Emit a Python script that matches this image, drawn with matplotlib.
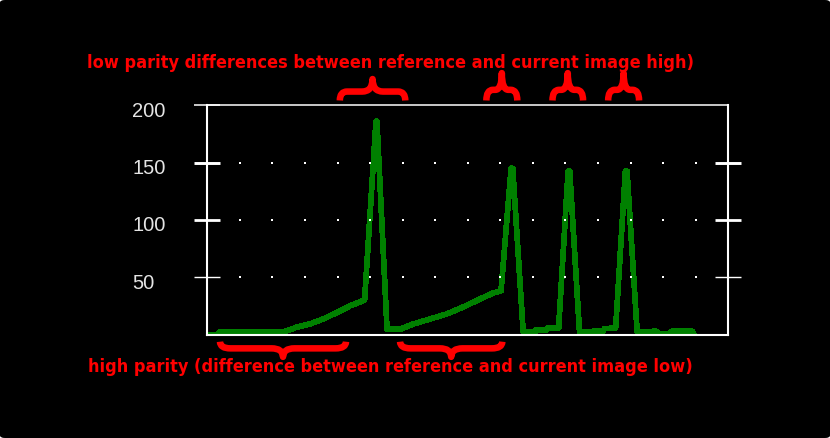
import numpy as np
import matplotlib.pyplot as plt
import matplotlib.transforms as mtransforms
from matplotlib.path import Path
from matplotlib.patches import PathPatch, FancyBboxPatch

# curve vertices (x in grid units, y in chart units)
x_vals = [0.00, 0.30, 0.38, 2.33, 2.75, 3.16, 3.56, 3.98, 4.39, 4.83,
          5.18, 5.21, 5.52, 5.92, 6.33, 6.84, 7.35, 7.86, 8.38, 8.78,
          9.02, 9.33, 9.38, 9.70, 10.08, 10.10, 10.42, 10.45, 10.79, 11.08,
          11.13, 11.43, 11.81, 11.84, 12.16, 12.19, 12.54, 12.84, 12.89, 13.20,
          13.80, 13.83, 14.22, 14.25, 14.90, 14.93]
y_vals = [0.0, 0.0, 2.2, 2.2, 6.4, 9.3, 13.5, 19.2, 25.1, 30.0,
          186.0, 186.0, 4.5, 4.6, 9.2, 13.5, 17.9, 24.0, 31.0, 36.2,
          38.0, 145.0, 145.0, 2.6, 2.6, 4.1, 4.1, 5.7, 5.8, 142.5,
          142.5, 2.2, 2.2, 2.8, 2.8, 5.0, 5.8, 142.5, 142.5, 2.5,
          2.8, 0.6, 0.6, 2.8, 2.8, 0.5]

ytick_vals = [50, 100, 150, 200]
ytick_labels = ['50', '100', '150', '200']
tick_widths = [1.0, 2.0, 2.1, 1.1]
grid_x = list(range(1, 16))
grid_y = [50, 100, 150]

top_text = 'low parity differences between reference and current image high)'
bottom_text = 'high parity (difference between reference and current image low)'

# braces: left, right, arm end, bar, tip, leg radius, tip radius
top_braces = [(4.07, 6.08, 204.2, 212.0, 222.9, 0.22, 0.32),
              (8.57, 9.52, 204.2, 213.5, 228.1, 0.20, 0.20),
              (10.60, 11.54, 204.2, 213.5, 228.1, 0.20, 0.20),
              (12.31, 13.26, 204.2, 213.5, 228.1, 0.20, 0.20)]
bottom_braces = [(0.39, 4.26, -6.3, -12.1, -19.5, 0.32, 0.35),
                 (5.92, 9.06, -6.3, -12.1, -19.5, 0.32, 0.35)]

W, H = 830, 438
fig = plt.figure(figsize=(W / 100, H / 100), dpi=100, facecolor='white')
bg = FancyBboxPatch((0, 0), 1, 1, boxstyle='round,pad=0,rounding_size=0.006',
                    transform=fig.transFigure, fc='black', ec='none', zorder=-10)
fig.patches.append(bg)

ax = fig.add_axes([207.3 / W, (H - 334.5) / H, 521 / W, 229.2 / H])
ax.set_facecolor('black')
ax.set_xlim(0, 16)
ax.set_ylim(0, 200)

ax.plot(x_vals, y_vals, color='#008000', lw=3.4, antialiased=False,
        solid_capstyle='projecting', solid_joinstyle='round')

# dotted grid: one dot per grid crossing
gx, gy = np.meshgrid(grid_x, grid_y)
ax.plot(gx.ravel(), gy.ravel(), ls='none', marker='s', ms=1.5, mew=0,
        color='white', antialiased=False)

for name, sp in ax.spines.items():
    sp.set_color('white')
    sp.set_linewidth(1.1 if name == 'top' else 1.5)

ax.set_xticks([])
ax.set_yticks(ytick_vals)
ax.set_yticklabels([])
ax.tick_params(axis='y', direction='inout', length=18.7, color='white',
               left=True, right=True)
for tk, w in zip(ax.yaxis.get_major_ticks(), tick_widths):
    tk.tick1line.set_markeredgewidth(w)
    tk.tick2line.set_markeredgewidth(w)
ax.yaxis.get_major_ticks()[-1].tick2line.set_visible(False)

lab_tr = mtransforms.blended_transform_factory(ax.transAxes, ax.transData) + \
    mtransforms.ScaledTranslation(0, -11.4 / 100, fig.dpi_scale_trans)
for v, s in zip(ytick_vals, ytick_labels):
    ax.text((132 - 207.3) / 521, v, s, transform=lab_tr, ha='left', va='baseline',
            color='#e4e4e4', fontsize=14.5, family='Liberation Sans')


def brace(ax, xa, xb, y_end, y_bar, y_tip, r_leg, r_tip):
    xm = (xa + xb) / 2
    verts = [(xa, y_end), (xa, y_bar), (xa + r_leg, y_bar),
             (xm - r_tip, y_bar), (xm, y_bar), (xm, y_tip),
             (xm, y_bar), (xm + r_tip, y_bar),
             (xb - r_leg, y_bar), (xb, y_bar), (xb, y_end)]
    codes = [Path.MOVETO, Path.CURVE3, Path.CURVE3,
             Path.LINETO, Path.CURVE3, Path.CURVE3,
             Path.CURVE3, Path.CURVE3,
             Path.LINETO, Path.CURVE3, Path.CURVE3]
    p = PathPatch(Path(verts, codes), fill=False, ec='red', lw=4.7,
                  capstyle='butt', joinstyle='round', clip_on=False)
    ax.add_patch(p)


for b in top_braces + bottom_braces:
    brace(ax, *b)

txt_kw = dict(ha='center', va='baseline', color='red', fontsize=13,
              fontweight='bold', fontstretch='condensed', family='DejaVu Sans')
fig.text(390 / W, 1 - 68 / H, top_text, **txt_kw)
fig.text(390 / W, 1 - 372.5 / H, bottom_text, **txt_kw)

fig.savefig('out.png', dpi=100, facecolor=fig.get_facecolor())
